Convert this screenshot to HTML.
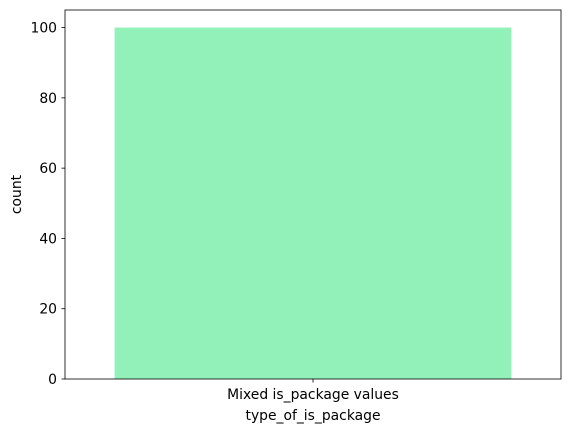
<!DOCTYPE html>
<html><head><meta charset="utf-8"><style>
body{margin:0;background:#fff;width:571px;height:433px;overflow:hidden}
</style></head><body>
<svg id="chart" width="571" height="433" xmlns="http://www.w3.org/2000/svg" font-family="DejaVu Sans, sans-serif" font-size="13.9">
</svg>
<script>
const categories = ["Mixed is_package values"];
const counts = [100];
const yTicks = [0, 20, 40, 60, 80, 100];
const yMax = 105;

const L = 65, R = 561, T = 10, B = 379;
const svg = document.getElementById('chart');
const NS = 'http://www.w3.org/2000/svg';
function y(v){ return B - v / yMax * (B - T); }
function x(i){ return L + (i + 0.5) / categories.length * (R - L); }
function mk(tag, attrs, parent){ const e = document.createElementNS(NS, tag); for (const k in attrs) e.setAttribute(k, attrs[k]); (parent||svg).appendChild(e); return e; }

const bw = (R - L) / categories.length * 0.8;
categories.forEach((c, i) => {
  const b = mk('rect', {x: x(i) - bw/2, y: y(counts[i]), width: bw, height: B - y(counts[i]), fill: '#92f0b9'});
  
  
  mk('line', {x1: x(i), x2: x(i), y1: B, y2: B + 3.5, stroke: '#000', 'stroke-width': 0.8});
  const t = mk('text', {x: x(i), y: B + 20, 'text-anchor': 'middle', fill: '#000'});
  t.textContent = c;
  
  
});
yTicks.forEach(v => {
  mk('line', {x1: L - 3.5, x2: L, y1: y(v), y2: y(v), stroke: '#000', 'stroke-width': 0.8});
  const t = mk('text', {x: L - 8, y: y(v) + 5, 'text-anchor': 'end', fill: '#000'});
  t.textContent = v;
  
  
});
const frame = mk('rect', {x: L, y: T, width: R - L, height: B - T, fill: 'none', stroke: '#000', 'stroke-width': 0.8});


const xt = mk('text', {x: (L + R) / 2, y: 420, 'text-anchor': 'middle', fill: '#000'});
xt.textContent = 'type_of_is_package';


const yt = mk('text', {x: 0, y: 0, 'text-anchor': 'middle', fill: '#000', transform: 'translate(21,' + ((T + B) / 2) + ') rotate(-90)'});
yt.textContent = 'count';


</script>
</body></html>
